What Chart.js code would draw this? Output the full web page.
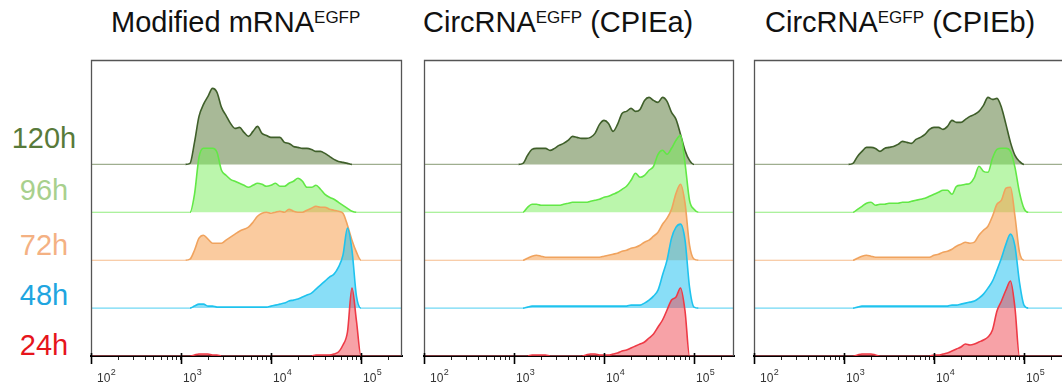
<!DOCTYPE html>
<html>
<head>
<meta charset="utf-8">
<script src="https://cdn.jsdelivr.net/npm/chart.js@4.4.1/dist/chart.umd.min.js"></script>
<style>
  html, body { margin: 0; padding: 0; background: #fff; overflow: hidden; width: 1062px; height: 391px; }
  body { position: relative; font-family: 'Liberation Sans', Arial, sans-serif; }
  .title { position: absolute; top: 7.5px; font-size: 29px; line-height: 29px; color: #111; white-space: nowrap; }
  .title .sup { font-size: 17px; vertical-align: 9px; line-height: 0; }
  .rowlab { position: absolute; left: 4px; width: 80px; text-align: center; font-size: 29px; line-height: 29px; white-space: nowrap; }
  canvas { position: absolute; top: 50px; }
</style>
</head>
<body>
<div class="title" style="left:111px">Modified mRNA<span class="sup">EGFP</span></div>
<div class="title" style="left:423px">CircRNA<span class="sup">EGFP</span> (CPIEa)</div>
<div class="title" style="left:765px">CircRNA<span class="sup">EGFP</span> (CPIEb)</div>

<div class="rowlab" style="top:123.5px;color:#587a3a">120h</div>
<div class="rowlab" style="top:176px;color:#a8d08d">96h</div>
<div class="rowlab" style="top:230.5px;color:#f4b183">72h</div>
<div class="rowlab" style="top:280.5px;color:#1fa5e0">48h</div>
<div class="rowlab" style="top:330.5px;color:#e6141c">24h</div>

<canvas id="c1" width="337" height="341" style="left:75px"></canvas>
<canvas id="c2" width="336" height="341" style="left:408px"></canvas>
<canvas id="c3" width="337" height="341" style="left:738px"></canvas>

<script>
// ---- DATA ----
// histogram bin centres, log10 of fluorescence intensity
const logBins = [3.00,3.05,3.10,3.15,3.20,3.25,3.30,3.35,3.40,3.45,
                 3.50,3.55,3.60,3.65,3.70,3.75,3.80,3.85,3.90,3.95,
                 4.00,4.05,4.10,4.15,4.20,4.25,4.30,4.35,4.40,4.45,
                 4.50,4.55,4.60,4.65,4.70,4.75,4.80,4.85,4.90,4.95,
                 5.00,5.05];
const timepoints = ['24h','48h','72h','96h','120h'];
const tickDecades = [2,3,4,5];

// Modified mRNA-EGFP
const mrna_24h  = [0,0,0,1,2,2,2,1,1,0, 0,0,0,0,0,0,0,0,0,0, 0,0,0,0,0,0,0,0,0,0, 1,1,1,1,2,4,11,24,68,35, 0,0];
const mrna_48h  = [0,0,0,2,4,4,2,2,1,1, 1,1,1,1,1,1,1,1,1,1, 2,3,4,5,7,8,9,11,13,15, 19,23,27,31,34,41,53,80,58,12, 0,0];
const mrna_72h  = [0,0,1,10,22,25,21,17,17,17, 20,23,26,29,31,33,38,44,47,48, 47,48,49,48,51,49,48,48,50,52, 54,53,53,51,50,49,47,35,20,8, 0,0];
const mrna_96h  = [0,0,0,18,55,64,64,64,60,42, 37,33,31,29,27,25,27,29,28,26, 27,29,26,26,29,31,34,31,25,25, 27,23,18,15,13,10,7,4,1,0, 0,0];
const mrna_120h = [0,0,1,22,48,60,68,76,72,57, 49,41,36,37,32,28,33,38,31,29, 27,27,27,22,21,18,17,16,16,15, 13,13,11,8,5,3,2,1,0,0, 0,0];

// CircRNA-EGFP (CPIEa)
const cpiea_24h  = [0,0,0,0,1,1,1,1,0,0, 0,0,0,0,0,0,1,2,2,1, 1,1,2,3,5,6,8,10,12,14, 18,22,29,36,46,56,59,68,45,0, 0,0];
const cpiea_48h  = [0,0,0,1,2,2,2,2,2,2, 2,2,2,2,2,2,2,2,2,2, 2,2,2,2,2,2,3,3,3,5, 8,12,18,33,48,70,81,84,68,21, 1,0];
const cpiea_72h  = [0,0,0,2,4,5,4,3,3,3, 3,3,3,3,3,3,3,3,3,3, 4,5,6,7,9,10,12,13,15,18, 20,24,28,36,42,51,67,76,57,15, 1,0];
const cpiea_96h  = [0,0,0,5,8,8,7,7,7,7, 7,8,9,10,10,10,10,11,12,13, 15,16,18,20,23,26,32,39,35,37, 42,46,58,62,58,64,72,77,49,12, 3,0];
const cpiea_120h = [0,0,1,9,15,16,16,16,14,16, 19,21,24,28,27,26,26,27,31,40, 44,41,33,40,51,53,56,53,55,64, 67,64,62,67,63,52,45,30,14,4, 0,0];

// CircRNA-EGFP (CPIEb)
const cpieb_24h  = [0,0,0,1,2,2,2,1,0,0, 0,0,0,0,0,0,0,0,0,0, 1,1,2,3,5,7,9,12,11,12, 14,16,19,26,45,55,66,75,48,0, 0,0];
const cpieb_48h  = [0,0,0,1,2,2,2,2,2,2, 2,2,2,2,2,2,2,2,2,2, 2,2,2,2,3,3,4,5,6,7, 10,14,20,27,38,50,64,74,62,26, 3,0];
const cpieb_72h  = [0,0,0,2,4,5,4,3,3,3, 3,3,3,3,3,3,3,3,3,3, 5,6,8,9,11,14,16,18,17,18, 25,30,34,44,56,60,72,73,44,8, 0,0];
const cpieb_96h  = [0,0,0,3,6,9,10,7,8,8, 9,9,9,10,10,11,12,13,14,16, 18,20,22,22,18,26,27,28,29,35, 46,41,40,54,63,64,64,61,45,20, 4,0];
const cpieb_120h = [0,0,1,8,13,17,17,16,13,16, 17,18,20,23,22,21,25,27,30,35, 37,37,35,38,44,42,42,45,48,50, 53,59,67,65,66,57,40,22,9,3, 0,0];

// ---- STYLE / LAYOUT ----
const styles = {
  '24h':  { line: '#ee3a46', base: '#f07078', fill: 'rgba(240,70,80,0.5)' },
  '48h':  { line: '#1fc3ee', base: '#70d8f4', fill: 'rgba(40,195,240,0.55)' },
  '72h':  { line: '#f0a35e', base: '#f6bd8c', fill: 'rgba(245,160,80,0.55)' },
  '96h':  { line: '#62e846', base: '#90ec7c', fill: 'rgba(120,238,90,0.5)' },
  '120h': { line: '#3f5f2a', base: '#9fae8f', fill: 'rgba(100,130,70,0.56)' }
};
const rowStep = 47.9;
const yTop = 296;

Chart.defaults.font.family = "'Liberation Sans', Arial, sans-serif";

const minorTicks = [];
[2,3,4].forEach(d => { for (let k = 2; k <= 9; k++) minorTicks.push(d + Math.log10(k)); });
minorTicks.push(5 + Math.log10(2));
const allTicks = tickDecades.concat(minorTicks).sort((a,b) => a-b);

const framePlugin = {
  id: 'frame',
  afterDraw(chart) {
    const { ctx, chartArea: a } = chart;
    const x = chart.scales.x;
    ctx.save();
    ctx.strokeStyle = '#555';
    ctx.lineWidth = 1.3;
    ctx.beginPath();
    ctx.moveTo(a.left + 0.5, a.bottom);
    ctx.lineTo(a.left + 0.5, a.top + 0.5);
    ctx.lineTo(a.right - 0.5, a.top + 0.5);
    ctx.lineTo(a.right - 0.5, a.bottom);
    ctx.stroke();
    ctx.strokeStyle = '#000';
    ctx.lineWidth = 1.6;
    ctx.fillStyle = '#333';
    ctx.textBaseline = 'alphabetic';
    ctx.textAlign = 'left';
    tickDecades.forEach(v => {
      const px = Math.round(x.getPixelForValue(v)) + 0.5;
      ctx.beginPath();
      ctx.moveTo(px, a.bottom - 3);
      ctx.lineTo(px, a.bottom + 8);
      ctx.stroke();
      // decade label: 10 with superscript exponent
      const lx = Math.max(px + 1.5, a.left + 6);
      ctx.font = "12px 'Liberation Sans', Arial, sans-serif";
      ctx.fillText('10', lx, a.bottom + 26);
      const w = ctx.measureText('10').width;
      ctx.font = "9px 'Liberation Sans', Arial, sans-serif";
      ctx.fillText(String(v), lx + w + 0.5, a.bottom + 19);
    });
    ctx.restore();
  }
};

function makePanel(canvasId, seriesByTime, xMax) {
  const datasets = [];
  timepoints.forEach((tp, row) => {
    const off = row * rowStep;
    const st = styles[tp];
    const vals = seriesByTime[tp];
    const pts = [{ x: 2, y: off }];
    logBins.forEach((b, i) => pts.push({ x: b, y: off + vals[i] }));
    pts.push({ x: xMax + 0.1, y: off });
    const flat = c => Math.abs(c.p0.parsed.y - off) < 0.01 && Math.abs(c.p1.parsed.y - off) < 0.01;
    datasets.push({
      label: tp,
      data: pts,
      borderColor: st.line,
      backgroundColor: st.fill,
      borderWidth: 1.6,
      pointRadius: 0,
      cubicInterpolationMode: 'monotone',
      fill: { value: off },
      segment: {
        borderColor: c => flat(c) ? st.base : st.line,
        borderWidth: c => flat(c) ? 1.1 : 1.6
      }
    });
  });
  new Chart(document.getElementById(canvasId), {
    type: 'line',
    data: { datasets },
    plugins: [framePlugin],
    options: {
      responsive: false,
      animation: false,
      devicePixelRatio: 1,
      layout: { padding: { left: 16, right: 10, top: 10, bottom: 0 } },
      plugins: { legend: { display: false }, tooltip: { enabled: false }, title: { display: false } },
      scales: {
        x: {
          type: 'linear', min: 2, max: xMax,
          afterBuildTicks: ax => { ax.ticks = allTicks.map(v => ({ value: v })); },
          afterFit: s => { s.height = 35; },
          grid: { drawOnChartArea: false, drawTicks: true, tickLength: 4, tickColor: '#222', tickWidth: 1 },
          border: { display: true, color: '#000', width: 2 },
          ticks: { autoSkip: false, maxRotation: 0, padding: 0, font: { size: 1 }, callback: () => '' }
        },
        y: { type: 'linear', min: 0, max: yTop, display: false }
      }
    }
  });
}

makePanel('c1', { '24h': mrna_24h, '48h': mrna_48h, '72h': mrna_72h, '96h': mrna_96h, '120h': mrna_120h }, 5.456);
makePanel('c2', { '24h': cpiea_24h, '48h': cpiea_48h, '72h': cpiea_72h, '96h': cpiea_96h, '120h': cpiea_120h }, 5.444);
makePanel('c3', { '24h': cpieb_24h, '48h': cpieb_48h, '72h': cpieb_72h, '96h': cpieb_96h, '120h': cpieb_120h }, 5.456);
</script>
</body>
</html>
